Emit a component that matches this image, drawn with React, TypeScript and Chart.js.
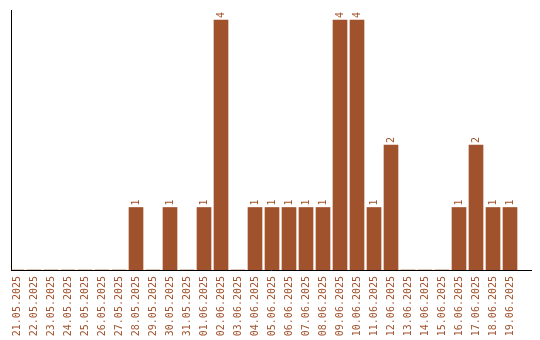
import React, { useEffect, useRef } from "react";
import { Chart, registerables } from "chart.js";

Chart.register(...registerables);

const dates = [
  "21.05.2025", "22.05.2025", "23.05.2025", "24.05.2025", "25.05.2025",
  "26.05.2025", "27.05.2025", "28.05.2025", "29.05.2025", "30.05.2025",
  "31.05.2025", "01.06.2025", "02.06.2025", "03.06.2025", "04.06.2025",
  "05.06.2025", "06.06.2025", "07.06.2025", "08.06.2025", "09.06.2025",
  "10.06.2025", "11.06.2025", "12.06.2025", "13.06.2025", "14.06.2025",
  "15.06.2025", "16.06.2025", "17.06.2025", "18.06.2025", "19.06.2025",
];
const counts = [0, 0, 0, 0, 0, 0, 0, 1, 0, 1, 0, 1, 4, 0, 1, 1, 1, 1, 1, 4, 4, 1, 2, 0, 0, 0, 1, 2, 1, 1];

const COLOR = "#A0522D";
const FONT = "'DejaVu Sans Mono', monospace";

const valueLabels = {
  id: "valueLabels",
  afterDatasetsDraw(chart: any) {
    const ctx = chart.ctx;
    const meta = chart.getDatasetMeta(0);
    ctx.save();
    ctx.fillStyle = COLOR;
    ctx.font = `10px ${FONT}`;
    ctx.textAlign = "left";
    ctx.textBaseline = "middle";
    meta.data.forEach((bar: any, i: number) => {
      const v = counts[i];
      if (!v) return;
      ctx.save();
      ctx.translate(bar.x, bar.y - 2);
      ctx.rotate(-Math.PI / 2);
      ctx.fillText(String(v), 0, 0);
      ctx.restore();
    });
    ctx.restore();
  },
};

export default function App() {
  const ref = useRef<HTMLCanvasElement>(null);
  useEffect(() => {
    document.body.style.margin = "0";
    const chart = new Chart(ref.current!, {
      type: "bar",
      data: {
        datasets: [
          {
            data: counts.map((v, i) => ({ x: i, y: v })),
            backgroundColor: COLOR,
            borderWidth: 0,
            barThickness: 14,
          },
        ],
      },
      options: {
        animation: false,
        responsive: false,
        maintainAspectRatio: false,
        layout: { padding: { left: 11, top: 10, right: 9, bottom: 0 } },
        plugins: { legend: { display: false }, tooltip: { enabled: false } },
        scales: {
          x: {
            type: "linear",
            min: -6 / 17,
            max: -6 / 17 + 520 / 17,
            offset: false,
            grid: { display: false, drawTicks: false },
            border: { display: true, color: "#000", width: 1 },
            afterBuildTicks: (s: any) => {
              s.ticks = s.ticks.filter((t: any) => t.value >= 0 && t.value < dates.length && Number.isInteger(t.value));
            },
            afterFit: (s: any) => {
              s.height = 70;
            },
            ticks: {
              stepSize: 1,
              autoSkip: false,
              includeBounds: false,
              minRotation: 90,
              maxRotation: 90,
              padding: 6,
              color: COLOR,
              font: { family: FONT, size: 10 },
              callback: (v: any) => dates[v] ?? "",
            },
          },
          y: {
            min: 0,
            max: 4.16,
            grid: { display: false, drawTicks: false },
            border: { display: true, color: "#000", width: 1 },
            ticks: { display: false },
            afterFit: (s: any) => {
              s.width = 0;
            },
          },
        },
      },
      plugins: [valueLabels],
    });
    return () => chart.destroy();
  }, []);
  return (
    <div style={{ width: 540, height: 340 }}>
      <canvas ref={ref} width={540} height={340} style={{ display: "block" }} />
    </div>
  );
}
